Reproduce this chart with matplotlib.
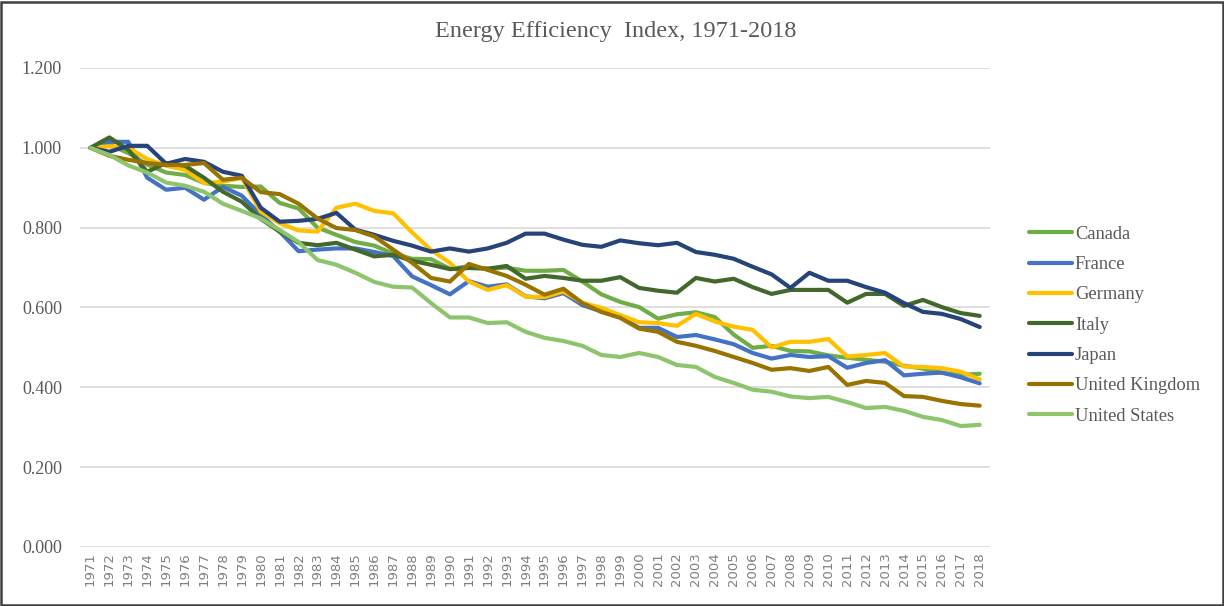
import numpy as np
import matplotlib.pyplot as plt
from matplotlib.patches import Rectangle

# Energy efficiency index, 1971 = 1.000

years = list(range(1971, 2019))

canada = [1.000, 1.008, 0.987, 0.958, 0.938, 0.932, 0.912, 0.905, 0.902, 0.903,
          0.862, 0.848, 0.800, 0.782, 0.764, 0.755, 0.735, 0.722, 0.721, 0.697,
          0.703, 0.697, 0.700, 0.692, 0.692, 0.694, 0.665, 0.633, 0.614, 0.601,
          0.572, 0.583, 0.588, 0.576, 0.532, 0.499, 0.504, 0.491, 0.490, 0.480,
          0.474, 0.469, 0.464, 0.454, 0.447, 0.436, 0.431, 0.434]
france = [1.000, 1.015, 1.015, 0.925, 0.895, 0.900, 0.870, 0.902, 0.880, 0.832,
          0.790, 0.741, 0.745, 0.748, 0.748, 0.739, 0.729, 0.678, 0.656, 0.633,
          0.666, 0.652, 0.658, 0.628, 0.623, 0.636, 0.606, 0.590, 0.576, 0.549,
          0.549, 0.526, 0.531, 0.520, 0.508, 0.486, 0.472, 0.481, 0.476, 0.478,
          0.449, 0.461, 0.468, 0.430, 0.434, 0.437, 0.425, 0.410]
germany = [1.000, 1.004, 1.000, 0.972, 0.955, 0.945, 0.912, 0.915, 0.925, 0.840,
           0.811, 0.793, 0.790, 0.850, 0.860, 0.842, 0.836, 0.788, 0.744, 0.712,
           0.665, 0.644, 0.656, 0.627, 0.626, 0.640, 0.612, 0.599, 0.581, 0.563,
           0.561, 0.554, 0.584, 0.565, 0.552, 0.544, 0.500, 0.514, 0.514, 0.521,
           0.477, 0.481, 0.486, 0.452, 0.451, 0.448, 0.439, 0.420]
italy = [1.000, 1.026, 0.995, 0.940, 0.962, 0.955, 0.925, 0.890, 0.865, 0.822,
         0.790, 0.762, 0.756, 0.762, 0.745, 0.728, 0.732, 0.717, 0.707, 0.696,
         0.699, 0.697, 0.704, 0.672, 0.679, 0.674, 0.667, 0.667, 0.676, 0.649,
         0.642, 0.637, 0.674, 0.665, 0.672, 0.651, 0.634, 0.644, 0.644, 0.644,
         0.612, 0.634, 0.634, 0.604, 0.619, 0.601, 0.586, 0.579]
japan = [1.000, 0.990, 1.005, 1.005, 0.960, 0.972, 0.965, 0.940, 0.930, 0.850,
         0.815, 0.817, 0.822, 0.837, 0.795, 0.782, 0.767, 0.755, 0.740, 0.748,
         0.740, 0.748, 0.762, 0.785, 0.785, 0.770, 0.757, 0.752, 0.768, 0.761,
         0.756, 0.762, 0.739, 0.732, 0.722, 0.702, 0.683, 0.649, 0.687, 0.667,
         0.667, 0.651, 0.637, 0.611, 0.589, 0.584, 0.571, 0.551]
uk = [1.000, 0.980, 0.970, 0.962, 0.957, 0.957, 0.962, 0.920, 0.925, 0.889,
      0.884, 0.860, 0.823, 0.799, 0.794, 0.778, 0.745, 0.712, 0.674, 0.665,
      0.709, 0.694, 0.679, 0.657, 0.632, 0.647, 0.611, 0.589, 0.574, 0.547,
      0.539, 0.514, 0.504, 0.491, 0.476, 0.461, 0.444, 0.448, 0.441, 0.451,
      0.406, 0.416, 0.411, 0.378, 0.376, 0.366, 0.358, 0.354]
usa = [1.000, 0.982, 0.956, 0.938, 0.913, 0.905, 0.890, 0.860, 0.842, 0.823,
       0.794, 0.764, 0.719, 0.707, 0.687, 0.664, 0.652, 0.650, 0.611, 0.575,
       0.575, 0.561, 0.563, 0.539, 0.524, 0.516, 0.504, 0.481, 0.476, 0.486,
       0.476, 0.456, 0.451, 0.426, 0.411, 0.394, 0.389, 0.377, 0.373, 0.376,
       0.363, 0.348, 0.351, 0.341, 0.326, 0.318, 0.303, 0.306]

series = [("Canada", canada, "#70AD47"),
          ("France", france, "#4472C4"),
          ("Germany", germany, "#FFC000"),
          ("Italy", italy, "#43682B"),
          ("Japan", japan, "#264478"),
          ("United Kingdom", uk, "#997300"),
          ("United States", usa, "#8DC46C")]

serif = "Liberation Serif"
grey = "#595959"

fig = plt.figure(figsize=(12.24, 6.06), dpi=100)
ax = fig.add_axes([0.0654, 0.0974, 0.7435, 0.7904])

for name, vals, col in series:
    ax.plot(years, vals, color=col, linewidth=3.0, label=name,
            solid_joinstyle="round", solid_capstyle="round")

ax.set_xlim(1970.45, 2018.55)
ax.set_ylim(0, 1.2)
ax.set_yticks(np.arange(0, 1.21, 0.2))
ax.set_yticklabels(["%.3f" % v for v in np.arange(0, 1.21, 0.2)],
                   fontfamily=serif, fontsize=13, color=grey)
ax.set_xticks(years)
ax.set_xticklabels([str(y) for y in years], rotation=90, fontsize=9.5,
                   color="#7f7f7f", fontfamily="DejaVu Sans")
ax.tick_params(axis="y", length=0, pad=13)
ax.tick_params(axis="x", length=0, pad=4)
ax.grid(axis="y", color="#D9D9D9", linewidth=1.2)
ax.set_axisbelow(True)
for s in ax.spines.values():
    s.set_visible(False)

fig.text(0.503, 0.948, "Energy Efficiency  Index, 1971-2018", ha="center",
         va="center", fontfamily=serif, fontsize=17.5, color=grey)

leg = ax.legend(loc="center left", bbox_to_anchor=(1.025, 0.463), frameon=False,
                prop={"family": serif, "size": 13.3}, handlelength=2.3,
                handletextpad=0.16, labelspacing=0.72)
for t in leg.get_texts():
    t.set_color(grey)

# outer frame round the whole picture
fig.patches.append(Rectangle((0.0012, 0.002), 0.9976, 0.995, transform=fig.transFigure,
                             fill=False, edgecolor="#404040", linewidth=1.8))

plt.savefig("out.png", dpi=100)
